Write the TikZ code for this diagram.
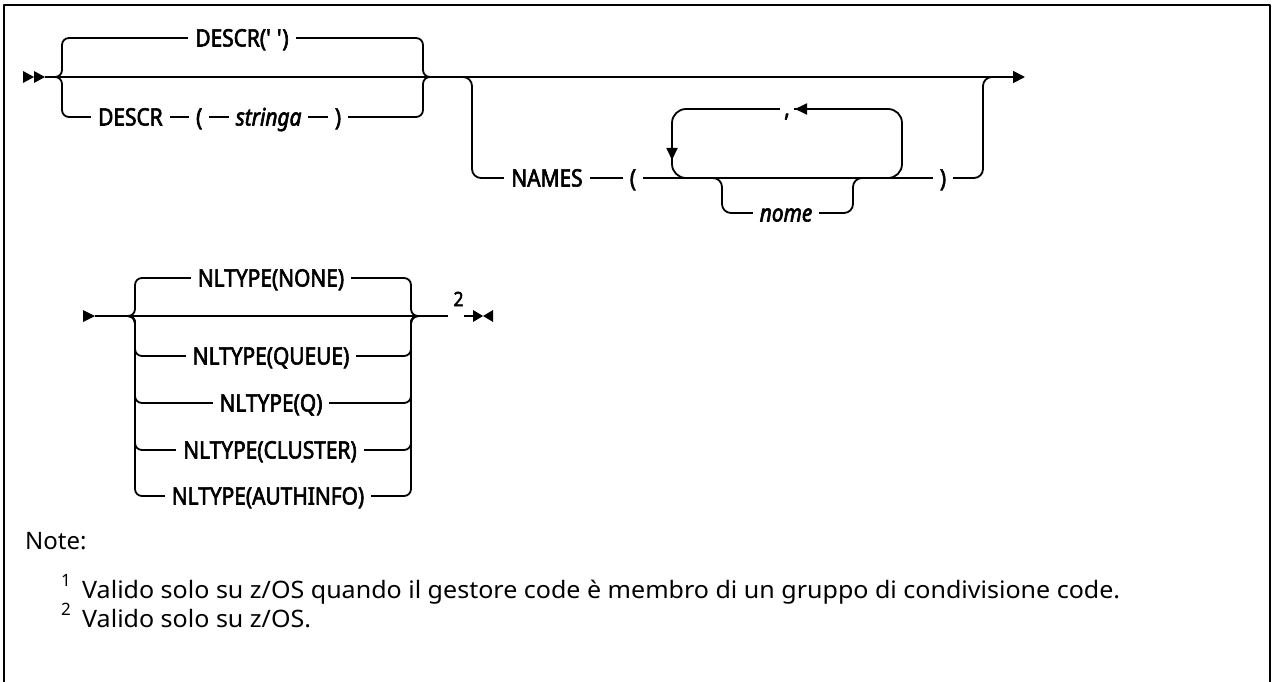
\documentclass[tikz,border=0pt]{standalone}
\usepackage{fontspec}
\usetikzlibrary{arrows.meta,positioning}
\setmainfont{Noto Sans}
\newfontfamily\lblfont[FakeBold=2.5,FakeStretch=0.87]{Noto Sans}
\newfontfamily\notefont{Noto Sans}
\newsavebox\notebox
\tikzset{
  rail/.style={line width=1.8pt},
  tipR/.style={-{Triangle[length=12pt,width=12pt]}},
  lbl/.style={fill=white, inner xsep=7pt, inner ysep=0pt, text height=17pt, text depth=0pt,
    font=\lblfont\fontsize{24}{24}\selectfont},
  ilbl/.style={lbl, font=\lblfont\itshape\fontsize{24}{24}\selectfont},
  fn/.style={inner sep=0pt, anchor=base west, font=\notefont\fontsize{24}{24}\selectfont},
  fnsup/.style={inner sep=0pt, anchor=base west, font=\notefont\fontsize{17}{17}\selectfont},
}
\begin{document}
\sbox\notebox{\notefont\fontsize{24}{24}\selectfont Valido solo su z/OS quando il gestore code è membro di un gruppo di condivisione code.}
\pgfmathsetmacro{\nsx}{1038/\the\wd\notebox}
\begin{tikzpicture}[x=1pt,y=-1pt,line join=round]
\useasboundingbox (0,0) rectangle (1274,682);
\draw[line width=2.5pt] (4,700) -- (4,5) -- (1270,5) -- (1270,700);

% ---------- row 1 ----------
\coordinate (r1s) at (45,77);
\coordinate (r1e) at (1025,77);
\fill (23,71) -- (34,77) -- (23,83) -- cycle;
\fill (34,71) -- (45,77) -- (34,83) -- cycle;
\draw[rail,tipR] (r1s) -- (r1e);

% choice DESCR
\draw[rail,rounded corners=7pt] (55,77) -- (62,77) -- (62,38) -- (423,38) -- (423,77) -- (430,77);
\draw[rail,rounded corners=7pt] (55,77) -- (62,77) -- (62,117) -- (423,117) -- (423,77) -- (430,77);
\node[lbl] (descrdef) at (242,38) {DESCR(\textquotesingle\ \textquotesingle)};
\node[lbl,anchor=west] (descr) at (91,117) {DESCR};
\node[lbl,right=19pt of descr] (lp1) {(};
\node[ilbl,right=19pt of lp1] (stringa) {stringa};
\node[lbl,right=19pt of stringa] (rp1) {)};

% optional NAMES
\draw[rail,rounded corners=9pt] (463,77) -- (472,77) -- (472,178) -- (983,178) -- (983,77) -- (992,77);
\draw[rail,rounded corners=14pt] (700,178) -- (672,178) -- (672,109) -- (902,109) -- (902,178) -- (880,178);
\draw[rail,rounded corners=9pt] (712,178) -- (722,178) -- (722,213) -- (853,213) -- (853,178) -- (862,178);
\node[lbl] (names) at (547,178) {NAMES};
\node[lbl] (lp2) at (633,178) {(};
\node[lbl] (rp2) at (943,178) {)};
\node[lbl,inner xsep=4pt] (comma) at (787,108) {,};
\node[ilbl] (nome) at (786,213) {nome};
\coordinate (ca) at (809,109);
\coordinate (cb) at (795,109);
\draw[rail,-{Triangle[length=12pt,width=11pt]}] (ca) -- (cb);
\coordinate (da) at (672,146);
\coordinate (db) at (672,160);
\draw[rail,-{Triangle[length=12pt,width=11pt]}] (da) -- (db);

% ---------- row 2 ----------
\coordinate (r2s) at (95,316);
\coordinate (r2e) at (448,316);
\fill (83,310) -- (95,316) -- (83,322) -- cycle;
\draw[rail] (r2s) -- (r2e);
\foreach \yy in {278,356,403,450,496}{
  \draw[rail,rounded corners=7pt] (128,316) -- (135,316) -- (135,\yy) -- (411,\yy) -- (411,316) -- (418,316);
}
\node[lbl] (nnone) at (271,278) {NLTYPE(NONE)};
\node[lbl] (nqueue) at (271,356) {NLTYPE(QUEUE)};
\node[lbl] (nq) at (271,403) {NLTYPE(Q)};
\node[lbl] (ncluster) at (270,450) {NLTYPE(CLUSTER)};
\node[lbl] (nauth) at (268,496) {NLTYPE(AUTHINFO)};
\node[font=\lblfont\fontsize{20}{20}\selectfont, inner sep=0pt] (fn2) at (458.5,299) {2};
\coordinate (r2a) at (464,316);
\coordinate (r2b) at (474,316);
\draw[rail] (r2a) -- (r2b);
\fill (473,310) -- (483,316) -- (473,322) -- cycle;
\fill (493,310) -- (483,316) -- (493,322) -- cycle;

% ---------- notes ----------
\node[fn] (note) at (25,549) {Note:};
\node[fnsup] (s1) at (61,586) {1};
\node[fn] (n1) at (82,598) {\scalebox{\nsx}[1]{Valido solo su z/OS quando il gestore code è membro di un gruppo di condivisione code.}};
\node[fnsup] (s2) at (61,615) {2};
\node[fn] (n2) at (82,627) {\scalebox{\nsx}[1]{Valido solo su z/OS.}};
\end{tikzpicture}
\end{document}
